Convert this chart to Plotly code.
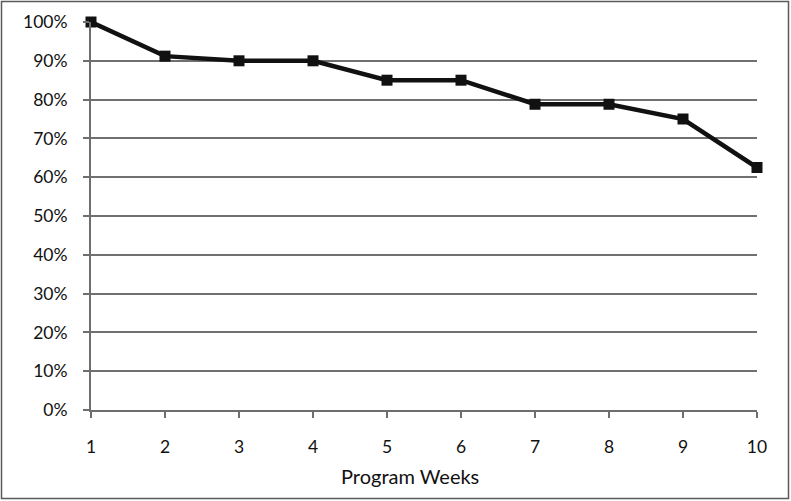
import plotly.graph_objects as go

weeks = [1, 2, 3, 4, 5, 6, 7, 8, 9, 10]
retention = [100, 91.2, 90, 90, 85, 85, 78.8, 78.8, 75, 62.5]
y_ticks = [0, 10, 20, 30, 40, 50, 60, 70, 80, 90, 100]
y_labels = [f"{v}%" for v in y_ticks]
x_title = "Program Weeks"

W, H = 791, 501
L, R, T, B = 91, 34, 22, 91
pw, ph = W - L - R, H - T - B

fig = go.Figure()
fig.add_trace(go.Scatter(
    x=weeks, y=retention, mode="lines+markers",
    line=dict(color="#111111", width=4.5),
    marker=dict(symbol="square", size=11, color="#111111"),
    cliponaxis=False, showlegend=False,
))

fig.update_layout(
    width=W, height=H,
    margin=dict(l=L, r=R, t=T, b=B),
    paper_bgcolor="white", plot_bgcolor="white",
    font=dict(family="Lato, Open Sans, sans-serif", size=17.5, color="#111111"),
    xaxis=dict(
        range=[1, 10], tickmode="array", tickvals=weeks, ticktext=[str(w) for w in weeks],
        showgrid=False, zeroline=False, showline=True, linecolor="#6e6e6e", linewidth=2,
        ticks="outside", ticklen=6, tickwidth=2, tickcolor="#6e6e6e",
        ticklabelstandoff=14,
    ),
    yaxis=dict(
        range=[0, 100], tickmode="array", tickvals=y_ticks, ticktext=y_labels,
        showgrid=True, gridcolor="#707070", gridwidth=1.5, zeroline=False,
        showline=True, linecolor="#6e6e6e", linewidth=2,
        ticks="outside", ticklen=6, tickwidth=2, tickcolor="#6e6e6e",
        ticklabelstandoff=12,
    ),
)

fig.add_annotation(
    text=x_title, xref="paper", yref="paper",
    x=(409.5 - L) / pw, y=-(476 - (T + ph)) / ph,
    xanchor="center", yanchor="middle", showarrow=False,
    font=dict(size=20, color="#111111"),
)

# outer frame around the whole chart
fig.add_shape(
    type="rect", xref="paper", yref="paper",
    x0=(1.5 - L) / pw, x1=(W - 2.5 - L) / pw,
    y0=-(H - 2.5 - T - ph) / ph, y1=1 + (T - 1.5) / ph,
    line=dict(color="#5a5a5a", width=1.5), layer="below",
)

fig.write_html(
    "out.html",
    config={"displayModeBar": False},
    post_script="document.body.style.margin='0';document.body.style.overflow='hidden';",
)
